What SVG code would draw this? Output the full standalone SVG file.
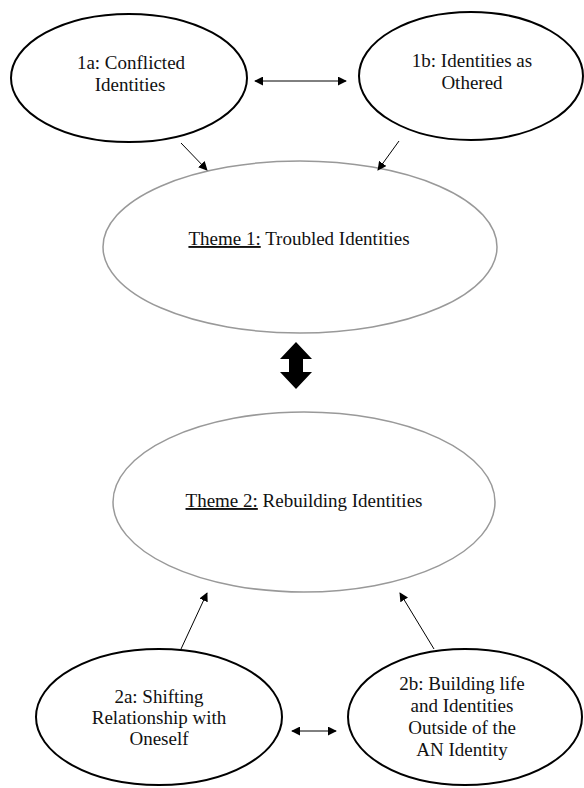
<svg xmlns="http://www.w3.org/2000/svg" width="584" height="788" viewBox="0 0 584 788">
<defs>
<style>
.sub{fill:#fff;stroke:#000;stroke-width:2}
.theme{fill:#fff;stroke:#999;stroke-width:1.5}
text{font-family:"Liberation Serif","Times New Roman",serif;font-size:19px;fill:#111;text-anchor:middle}
.con{stroke:#000;stroke-width:1;fill:none}
</style>
<marker id="ah" viewBox="0 0 10 10" refX="9" refY="5" markerWidth="9" markerHeight="9" markerUnits="userSpaceOnUse" orient="auto-start-reverse">
<path d="M0,0 L10,5 L0,10 z" fill="#000"/>
</marker>
</defs>
<rect width="584" height="788" fill="#fff"/>
<g id="n1a">
<ellipse class="sub" cx="129" cy="78" rx="118" ry="64"/>
<text x="131" y="69">1a: Conflicted</text>
<text x="130" y="91">Identities</text>
</g>
<g id="n1b">
<ellipse class="sub" cx="471" cy="76" rx="112" ry="64"/>
<text x="472" y="67">1b: Identities as</text>
<text x="472" y="89">Othered</text>
</g>
<g id="theme1">
<ellipse class="theme" cx="300" cy="247" rx="197" ry="86"/>
<text x="299" y="245"><tspan text-decoration="underline">Theme 1:</tspan> Troubled Identities</text>
</g>
<g id="theme2">
<ellipse class="theme" cx="304" cy="502" rx="191" ry="90"/>
<text x="304" y="507"><tspan text-decoration="underline">Theme 2:</tspan> Rebuilding Identities</text>
</g>
<g id="n2a">
<ellipse class="sub" cx="159" cy="717" rx="123" ry="68"/>
<text x="159" y="703">2a: Shifting</text>
<text x="159" y="724">Relationship with</text>
<text x="159" y="745">Oneself</text>
</g>
<g id="n2b">
<ellipse class="sub" cx="465" cy="717" rx="117" ry="68"/>
<text x="462" y="690">2b: Building life</text>
<text x="462" y="712">and Identities</text>
<text x="462" y="734">Outside of the</text>
<text x="462" y="756">AN Identity</text>
</g>
<g id="connectors">
<line class="con" x1="255" y1="81" x2="346" y2="81" marker-start="url(#ah)" marker-end="url(#ah)"/>
<line class="con" x1="181" y1="143" x2="207" y2="170" marker-end="url(#ah)"/>
<line class="con" x1="399" y1="141" x2="378" y2="170" marker-end="url(#ah)"/>
<line class="con" x1="181" y1="649" x2="207" y2="593" marker-end="url(#ah)"/>
<line class="con" x1="434" y1="649" x2="400" y2="593" marker-end="url(#ah)"/>
<line class="con" x1="292" y1="731" x2="336" y2="731" marker-start="url(#ah)" marker-end="url(#ah)"/>
<path d="M296,342 L312,359 L303,359 L303,372 L312,372 L296,389 L280,372 L289,372 L289,359 L280,359 z" fill="#000"/>
</g>
</svg>
